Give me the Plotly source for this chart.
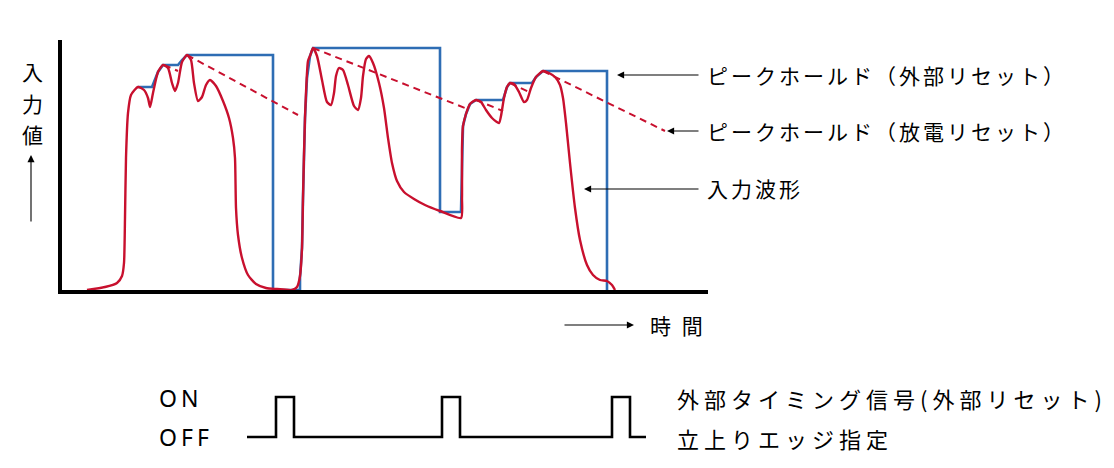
import plotly.graph_objects as go

# ---- data (time in px-like units, value above baseline) ----
wave_t = [87,105,117,122,124,125,126,128,131,138,144,148,150,153,158,163,168,172,175,178,182,187,191,194,198,202,206,210,216,223,229,233,235,236,238,242,248,256,266,277,
          292,297,300,302,303,305,308,310,313,317,322,327,331,334,336,339,343,348,354,358,361,363,366,369,373,379,384,388,392,397,404,414,425,440,461,
          462,462,463,466,470,476,481,486,492,499,501,504,507,510,514,519,524,527,531,536,543,549,555,560,563,566,570,575,580,587,593,600,607,612,615]
wave_v = [0,3,7,14,27,72,132,177,195,203,200,192,183,197,218,225,222,207,199,207,228,235,230,207,189,193,205,210,204,189,172,152,132,82,55,32,15,6,2,1,
          0,3,14,42,92,172,229,234,242,234,210,188,185,197,214,222,220,205,184,180,192,214,231,234,227,207,182,152,127,109,98,91,85,79,72,
          92,142,164,176,186,190,188,180,172,167,174,192,203,207,206,198,188,190,202,213,219,217,213,205,192,167,127,82,50,25,15,10,9,5,0]

hold_ext_t = [138,152,158,163,178,182,187,273,273,None,
              273,300,300,302,303,305,307,310,313,440,440,461,463,466,470,476,503,507,510,532,536,543,607,607]
hold_ext_v = [203,203,218,225,225,230,235,235,0,None,
              0,0,12,42,92,172,212,234,242,242,78,78,164,176,186,190,190,203,207,207,213,219,219,0]

hold_dis_t = [164,178,None,187,298,None,313,465,None,476,503,None,510,529,None,543,665]
hold_dis_v = [225,219,None,235,175,None,242,182,None,190,179,None,207,198,None,219,159]

pulse_t = [247,276,276,294,294,442,442,460,460,612,612,630,630,646]
pulse_v = [0,0,1,1,0,0,1,1,0,0,1,1,0,0]

y_label_chars = ["入", "力", "値"]

RED = "#c8102e"
BLUE = "#2e6db4"
JP = "Noto Sans CJK JP"

W, H = 1114, 468
OX, OY = 8, 8   # page offset of the plot div


def dom_x(a, b):
    return [(a - OX) / W, (b - OX) / W]


def dom_y(top, bottom):
    return [1 - (bottom - OY) / H, 1 - (top - OY) / H]


fig = go.Figure()
fig.add_trace(go.Scatter(x=hold_ext_t, y=hold_ext_v, mode="lines",
                         line=dict(color=BLUE, width=2.6), connectgaps=False))
fig.add_trace(go.Scatter(x=hold_dis_t, y=hold_dis_v, mode="lines",
                         line=dict(color=RED, width=2, dash="7px,5px"), connectgaps=False))
fig.add_trace(go.Scatter(x=wave_t, y=wave_v, mode="lines",
                         line=dict(color=RED, width=2.4, shape="spline", smoothing=0.6)))
fig.add_trace(go.Scatter(x=pulse_t, y=pulse_v, mode="lines", xaxis="x2", yaxis="y2",
                         line=dict(color="black", width=2.6)))

fig.update_layout(
    width=W, height=H, margin=dict(l=0, r=0, t=0, b=0),
    paper_bgcolor="white", plot_bgcolor="white", showlegend=False,
    xaxis=dict(domain=dom_x(62, 708), range=[62, 708], showgrid=False, zeroline=False,
               showticklabels=False, ticks="", showline=True, linewidth=4, linecolor="black"),
    yaxis=dict(domain=dom_y(40, 290), range=[0, 250], showgrid=False,
               zeroline=False, showticklabels=False, ticks="", showline=True,
               linewidth=4, linecolor="black"),
    xaxis2=dict(domain=dom_x(62, 708), range=[62, 708], visible=False, anchor="y2"),
    yaxis2=dict(domain=dom_y(390, 445), range=[-0.2, 1.175],
                visible=False, anchor="x2"),
)


def P(x, y):
    return (x - OX) / W, 1 - (y - OY) / H


def label(x, y, text, size=21, ls=3, family=JP, anchor="left"):
    px_, py_ = P(x, y)
    fig.add_annotation(x=px_, y=py_, xref="paper", yref="paper", showarrow=False,
                       xanchor=anchor, yanchor="middle",
                       text=f'<span style="letter-spacing:{ls}px">{text}</span>',
                       font=dict(family=family, size=size, color="black"))


def arrow(x0, y0, x1, y1):
    px_, py_ = P(x1, y1)
    fig.add_annotation(x=px_, y=py_, ax=x0 - x1, ay=y0 - y1, xref="paper", yref="paper",
                       axref="pixel", ayref="pixel", text="", showarrow=True,
                       arrowhead=2, arrowsize=1.3, arrowwidth=1.1, arrowcolor="black",
                       standoff=0, startstandoff=0)


label(705, 75, "ピークホールド（外部リセット）")
label(705, 131, "ピークホールド（放電リセット）")
label(705, 188, "入力波形")
arrow(700, 75, 617, 75)
arrow(700, 131, 667, 131)
arrow(700, 189, 584, 189)

for ch, yy in zip(y_label_chars, [71, 103, 134]):
    label(32, yy, ch, size=21, ls=0, anchor="center")
arrow(31, 223, 31, 155)

arrow(563, 325, 634, 325)
label(648, 325, "時 間", size=21, ls=3)

label(157, 398, "ON", size=23, ls=4, family="Noto Sans")
label(157, 437, "OFF", size=23, ls=4, family="Noto Sans")
label(675, 398, "外部タイミング信号(外部リセット)", size=22, ls=5)
label(675, 438, "立上りエッジ指定", size=22, ls=5)

fig.write_html("out.html")
